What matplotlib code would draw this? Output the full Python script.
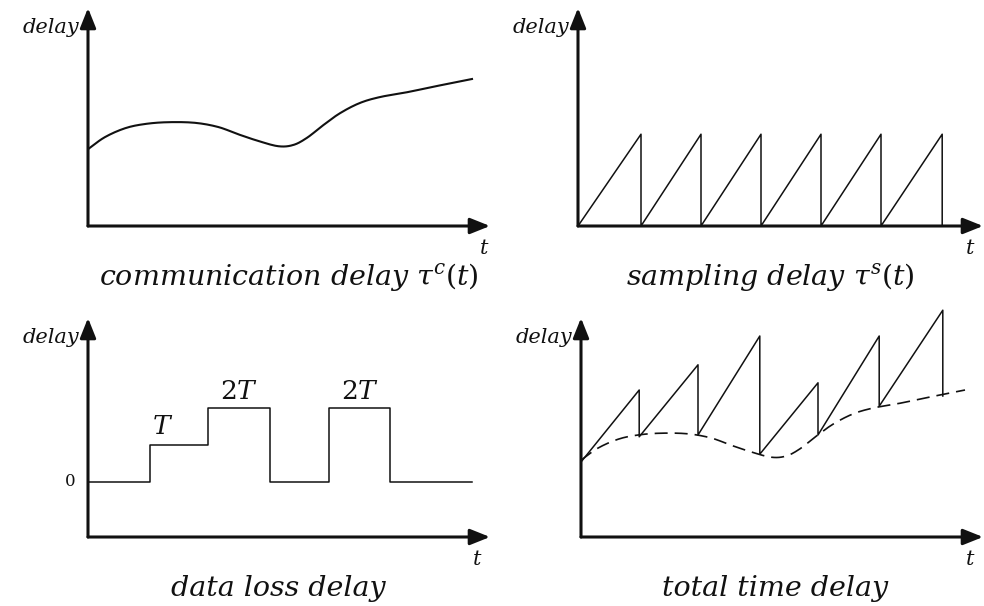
import matplotlib
matplotlib.use("Agg")
import matplotlib.pyplot as plt
import numpy as np

plt.rcParams['font.family'] = ['DejaVu Serif']
plt.rcParams['mathtext.fontset'] = 'dejavuserif'

# communication delay tau^c(t) (t in sample periods)
comm_t = [0, 0.28, 0.62, 0.95, 1.33, 1.78, 2.17, 2.5, 2.83, 3.17,
          3.42, 3.65, 3.92, 4.2, 4.53, 4.87, 5.32, 5.75, 6.15, 6.4]
comm_d = [1.28, 1.48, 1.63, 1.70, 1.73, 1.72, 1.65, 1.53, 1.42, 1.33,
          1.35, 1.47, 1.68, 1.88, 2.05, 2.15, 2.23, 2.32, 2.40, 2.45]

# sampling delay tau^s(t): sawtooth between sampling instants
samp_t = [0, 1.05, 2.05, 3.05, 4.05, 5.05, 6.07]
samp_peak = 1.53

# data loss delay, in units of T
loss_edges = [0, 1.03, 2.0, 3.03, 4.02, 5.03, 6.4]
loss_levels = [0, 1, 2, 0, 2, 0]
loss_labels = ['', 'T', '2T', '', '2T', '']

# total time delay
total_t = [0, 0.97, 1.95, 2.98, 3.95, 4.97, 6.03]
total_base = [1.25, 1.67, 1.70, 1.38, 1.70, 2.18, 2.35]
total_peak = [2.45, 2.87, 3.35, 2.57, 3.35, 3.78]

captions = ['communication delay $\\tau^c(t)$', 'sampling delay $\\tau^s(t)$',
            'data loss delay', 'total time delay']

W, H = 984, 606
PX = 60.0  # pixels per data unit
ink = '#111111'

fig = plt.figure(figsize=(W / 100, H / 100), dpi=100)


def smooth(x, y, n=12):
    # Catmull-Rom through the read points, only to draw a smooth pen line
    x = np.asarray(x, float)
    y = np.asarray(y, float)
    px = np.r_[2 * x[0] - x[1], x, 2 * x[-1] - x[-2]]
    py = np.r_[2 * y[0] - y[1], y, 2 * y[-1] - y[-2]]
    u = np.linspace(0, 1, n, endpoint=False)
    ox, oy = [], []
    for i in range(1, len(px) - 2):
        for p, o in ((px, ox), (py, oy)):
            p0, p1, p2, p3 = p[i - 1], p[i], p[i + 1], p[i + 2]
            o.extend(0.5 * (2 * p1 + (-p0 + p2) * u
                            + (2 * p0 - 5 * p1 + 4 * p2 - p3) * u ** 2
                            + (-p0 + 3 * p1 - 3 * p2 + p3) * u ** 3))
    ox.append(x[-1])
    oy.append(y[-1])
    return ox, oy


def make_axes(left, bottom, width, height, tx=0.968):
    # rect given in pixels, bottom measured from the top of the image
    ax = fig.add_axes([left / W, (H - bottom) / H, width / W, height / H])
    ax.set_xlim(0, width / PX)
    ax.set_ylim(0, height / PX)
    for s in ax.spines.values():
        s.set_visible(False)
    ax.set_xticks([])
    ax.set_yticks([])
    ax.patch.set_alpha(0)
    arrow = dict(arrowstyle='-|>,head_length=0.6,head_width=0.24',
                 lw=2.2, color=ink, mutation_scale=20, shrinkA=0, shrinkB=0)
    ax.annotate('', xy=(1, 0), xytext=(0, 0), xycoords='axes fraction',
                arrowprops=arrow)
    ax.annotate('', xy=(0, 1), xytext=(0, 0), xycoords='axes fraction',
                arrowprops=arrow)
    ax.text(-0.022, 0.91, 'delay', transform=ax.transAxes, ha='right',
            va='center', fontsize=15, style='italic', color=ink)
    ax.text(tx, -0.105, 't', transform=ax.transAxes, ha='center',
            va='center', fontsize=15, style='italic', color=ink)
    return ax


def caption(ax, text, cx):
    ax.text(cx, -0.235, text, transform=ax.transAxes, ha='center',
            va='center', fontsize=20.5, style='italic', color=ink)


# communication delay
ax1 = make_axes(88, 226, 402, 218, tx=0.985)
ax1.plot(*smooth(comm_t, comm_d), color=ink, lw=1.5)
caption(ax1, captions[0], 0.50)

# sampling delay
ax2 = make_axes(578, 226, 405, 218)
xs, ys = [samp_t[0]], [0]
for k in range(len(samp_t) - 1):
    xs += [samp_t[k + 1], samp_t[k + 1]]
    ys += [samp_peak, 0]
ax2.plot(xs, ys, color=ink, lw=1.1)
caption(ax2, captions[1], 0.474)

# data loss delay
ax3 = make_axes(88, 537, 402, 219)
ax3.set_ylim(-55 / 37, 164 / 37)
ax3.step(loss_edges, loss_levels + [loss_levels[-1]], where='post',
         color=ink, lw=1.1)
for k, lab in enumerate(loss_labels):
    if not lab:
        continue
    lvl = loss_levels[k]
    if lab == 'T':
        ax3.text(loss_edges[k] + 0.04, lvl + 0.15, '$T$', ha='left',
                 va='bottom', fontsize=19, color=ink)
    else:
        ax3.text((loss_edges[k] + loss_edges[k + 1]) / 2, lvl + 0.12,
                 '2$T$', ha='center', va='bottom', fontsize=19, color=ink)
ax3.text(-0.03, 0, '0', transform=ax3.get_yaxis_transform(), ha='right',
         va='center', fontsize=12, color=ink)
caption(ax3, captions[2], 0.473)

# total time delay
ax4 = make_axes(581, 537, 402, 219)
ax4.plot(*smooth(comm_t, comm_d), color=ink, lw=1.2, dashes=(7.8, 4.2))
xs, ys = [total_t[0]], [total_base[0]]
for k in range(len(total_peak)):
    xs += [total_t[k + 1], total_t[k + 1]]
    ys += [total_peak[k], total_base[k + 1]]
ax4.plot(xs, ys, color=ink, lw=1.1, clip_on=False)
caption(ax4, captions[3], 0.483)

fig.savefig('out.png', dpi=100, facecolor='white')
